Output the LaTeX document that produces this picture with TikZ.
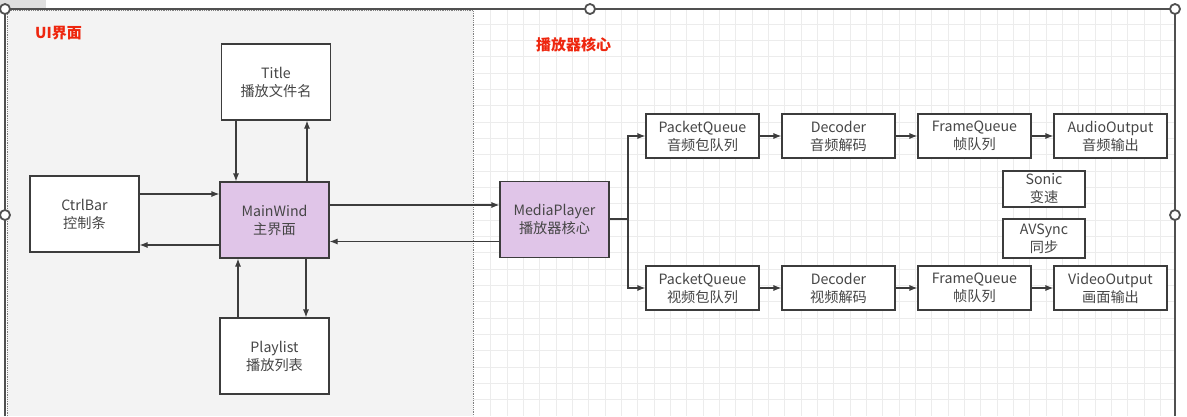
\documentclass[tikz,border=0pt]{standalone}
\usepackage{fontspec}
\setmainfont{Noto Sans CJK SC}
\usetikzlibrary{arrows.meta}

\definecolor{rahmen}{RGB}{60,60,60}
\definecolor{schrift}{RGB}{70,70,70}
\definecolor{lila}{RGB}{224,197,232}
\definecolor{panel}{RGB}{243,243,243}
\definecolor{gitter}{RGB}{236,236,236}
\definecolor{titelrot}{RGB}{238,38,14}

\begin{document}
\begin{tikzpicture}[x=1pt, y=-1pt,
  box/.style={draw=rahmen, line width=1.1pt, fill=white, align=center, text=schrift,
    font=\fontsize{14.2}{18}\selectfont, inner sep=0pt},
  gross/.style={box, minimum width=109pt, minimum height=76pt},
  klein/.style={box, minimum width=113pt, minimum height=44pt},
  mini/.style={box, minimum width=82pt},
  arr/.style={draw=rahmen, line width=1.1pt, -{Latex[length=8pt,width=6pt]}},
  label/.style={text=titelrot, inner sep=0pt, font=\fontsize{15}{18}\selectfont\bfseries}]
\useasboundingbox (0,0) rectangle (1187,416);

% Hintergrund
\fill[white] (0,0) rectangle (1187,416);
\fill[gray!25] (0,0) rectangle (46,8);
\foreach \i in {0,...,41} \draw[gitter, line width=0.8pt] (490.7+16.33*\i,10) -- (490.7+16.33*\i,416); % vertikal
\foreach \k in {0,...,23} \draw[gitter, line width=0.8pt] (474,24+16.33*\k) -- (1175,24+16.33*\k); % horizontal
\fill[panel] (7,10) rectangle (473,416);
\draw[gray, densely dotted, line width=0.8pt] (7,416) -- (7,10) -- (473,10) -- (473,416); % Panelrand

% Auswahlrahmen
\draw[rahmen!90, line width=1.2pt] (5,416) -- (5,9) -- (1175,9) -- (1175,416);
\foreach \p in {(5,9),(590,9),(1175,9),(5,215),(1175,215)}
  \draw[rahmen!90, fill=white, line width=1.8pt] \p circle (5pt);

% Titel
\node[label, anchor=west] (ui) at (35,33) {UI界面};
\node[label, anchor=west] (core) at (536,45) {播放器核心};

% UI Knoten
\node[gross] (title) at (276,82) {Title\\播放文件名};
\node[gross] (ctrl) at (84.5,214) {CtrlBar\\控制条};
\node[gross, fill=lila] (main) at (274.5,220) {MainWind\\主界面};
\node[gross] (list) at (274.5,356) {Playlist\\播放列表};
\node[gross, fill=lila] (mp) at (554.5,219.5) {MediaPlayer\\播放器核心};

% Kern Knoten
\node[klein] (pqa) at (702.5,136) {PacketQueue\\音频包队列};
\node[klein] (deca) at (838.5,136) {Decoder\\音频解码};
\node[klein] (fqa) at (974.5,136) {FrameQueue\\帧队列};
\node[klein] (aout) at (1110.5,136) {AudioOutput\\音频输出};
\node[klein] (pqv) at (702.5,288) {PacketQueue\\视频包队列};
\node[klein] (decv) at (838.5,288) {Decoder\\视频解码};
\node[klein] (fqv) at (974.5,288) {FrameQueue\\帧队列};
\node[klein] (vout) at (1110.5,288) {VideoOutput\\画面输出};
\node[mini, minimum height=36pt] (sonic) at (1044,189) {Sonic\\变速};
\node[mini, minimum height=39pt] (sync) at (1044,238.5) {AVSync\\同步};

% Pfeile UI
\draw[arr] ([xshift=-40pt]title.south) -- ([xshift=-40pt]title.south |- main.north);
\draw[arr] ([xshift=32.5pt]main.north) -- ([xshift=32.5pt]main.north |- title.south);
\draw[arr] ([yshift=20pt]ctrl.east) -- ([yshift=20pt]ctrl.east -| main.west);
\draw[arr] ([yshift=-25pt]main.west) -- ([yshift=-25pt]main.west -| ctrl.east);
\draw[arr] ([xshift=31.5pt]main.south) -- ([xshift=31.5pt]main.south |- list.north);
\draw[arr] ([xshift=-36.5pt]list.north) -- ([xshift=-36.5pt]list.north |- main.south);
\draw[arr] ([yshift=15pt]main.east) -- ([yshift=15pt]main.east -| mp.west);
\draw[arr] ([yshift=-22pt]mp.west) -- ([yshift=-22pt]mp.west -| main.east);

% Pfeile Kern
\coordinate (split) at (628,219);
\draw[rahmen, line width=1.1pt] (mp.east |- split) -- (split);
\draw[arr] (split) |- (pqa.west);
\draw[arr] (split) |- (pqv.west);
\draw[arr] (pqa) -- (deca);
\draw[arr] (deca) -- (fqa);
\draw[arr] (fqa) -- (aout);
\draw[arr] (pqv) -- (decv);
\draw[arr] (decv) -- (fqv);
\draw[arr] (fqv) -- (vout);
\end{tikzpicture}
\end{document}
